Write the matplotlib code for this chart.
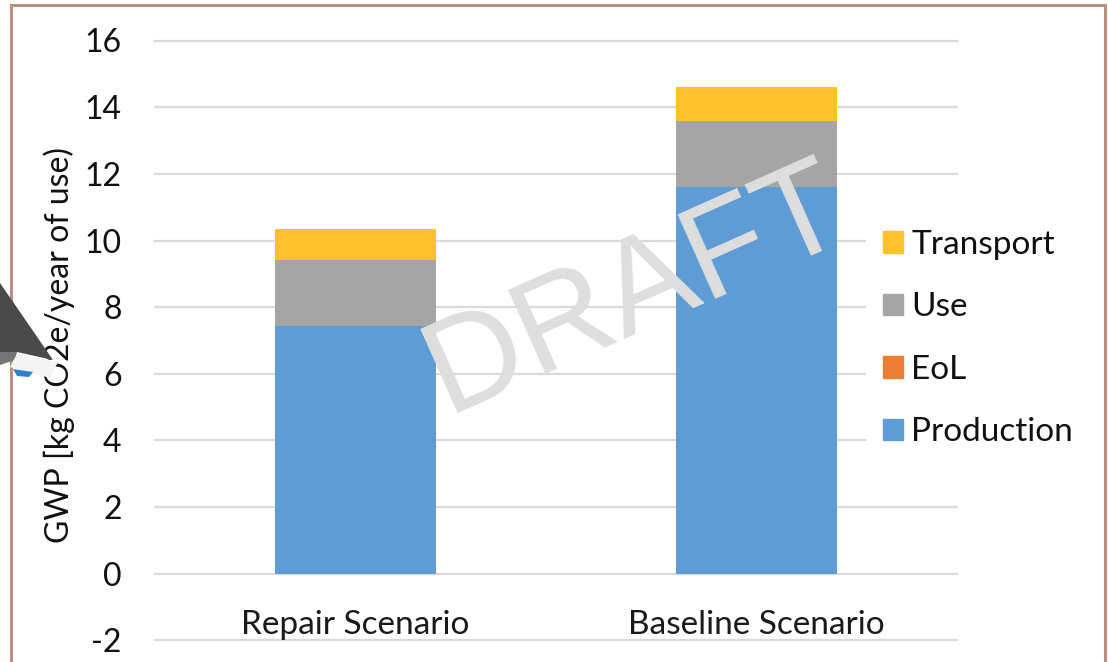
#!/usr/bin/env python3
# -*- coding: utf-8 -*-
import matplotlib
matplotlib.use('Agg')
import matplotlib.pyplot as plt
from matplotlib.patches import Patch, Polygon, Rectangle

W, H = 1108, 662

scenarios = ['Repair Scenario', 'Baseline Scenario']
production = [7.45, 11.6]
eol = [0.0, 0.0]
use = [1.98, 2.0]
transport = [0.92, 1.02]
yticks = [-2, 0, 2, 4, 6, 8, 10, 12, 14, 16]

plt.rcParams['font.family'] = ['Lato', 'DejaVu Sans']
plt.rcParams['axes.unicode_minus'] = False

fig = plt.figure(figsize=(W / 100, H / 100), dpi=100)
ax = fig.add_axes([155 / W, 1 - 640.5 / H, 802 / W, 600 / H])

x = range(len(scenarios))
bottom = [0.0, 0.0]
colors = {'Production': '#5F9BD4', 'EoL': '#ED7D31', 'Use': '#A5A5A5', 'Transport': '#FFC02A'}
for name, vals in [('Production', production), ('EoL', eol), ('Use', use), ('Transport', transport)]:
    ax.bar(x, vals, 0.4, bottom=bottom, color=colors[name], zorder=3)
    bottom = [b + v for b, v in zip(bottom, vals)]

ax.set_xlim(-0.5, 1.5)
ax.set_ylim(-2, 16)
ax.set_yticks(yticks)
ax.set_xticks([])
ax.tick_params(axis='y', length=0, labelsize=23, pad=24, labelcolor='#111111')
ax.grid(axis='y', color='#DADADA', lw=1.6, zorder=0, clip_on=False)
for s in ax.spines.values():
    s.set_visible(False)
for i, lab in enumerate(scenarios):
    ax.text(i, -1.55, lab, ha='center', va='center', fontsize=24, color='#1a1a1a')
ax.set_ylabel('GWP [kg CO2e/year of use)', fontsize=23, color='#111111')
ax.yaxis.set_label_coords(-80 / 802, 0.493)

handles = [Patch(color=colors[n], label=n) for n in ['Transport', 'Use', 'EoL', 'Production']]
leg = fig.legend(handles=handles, loc='center left', bbox_to_anchor=(866 / W, 1 - 338.5 / H), frameon=True,
                 fontsize=24, handlelength=0.6, handleheight=0.6, handletextpad=0.25,
                 labelspacing=0.975, borderpad=0.51, borderaxespad=0, labelcolor='#111111')
leg.get_frame().set_facecolor('white')
leg.get_frame().set_edgecolor('none')
leg.get_frame().set_alpha(1)

# watermark
fig.text(650 / W, 1 - 322 / H, 'DRAFT', fontsize=96, rotation=24, rotation_mode='anchor', ha='center', va='baseline',
         color='#DEDEDE', family=['Liberation Sans'], zorder=6)

# page border
fig.add_artist(Rectangle((10.5 / W, 1 - 700 / H), 1094 / W, 695 / H, transform=fig.transFigure, fill=False,
                         ec='#B8907C', lw=2.2, zorder=7))


def px(pts):
    return [(a / W, 1 - b / H) for a, b in pts]


# laptop picture pasted over the left edge
fig.add_artist(Polygon(px([(0, 283), (53, 360), (17, 352), (0, 352)]), transform=fig.transFigure, fc='#4A4A4A', ec='none', zorder=8))
fig.add_artist(Polygon(px([(0, 352), (17, 352), (15, 360), (0, 365)]), transform=fig.transFigure, fc='#757575', ec='none', zorder=8))
fig.add_artist(Polygon(px([(17, 354), (58, 362), (50, 378), (10, 367)]), transform=fig.transFigure, fc='#F4F4F4', ec='none', zorder=8))
fig.add_artist(Polygon(px([(13, 369), (33, 372), (29, 377), (17, 376)]), transform=fig.transFigure, fc='#2F7FD0', ec='none', zorder=8))

fig.savefig('out.png', dpi=100)
